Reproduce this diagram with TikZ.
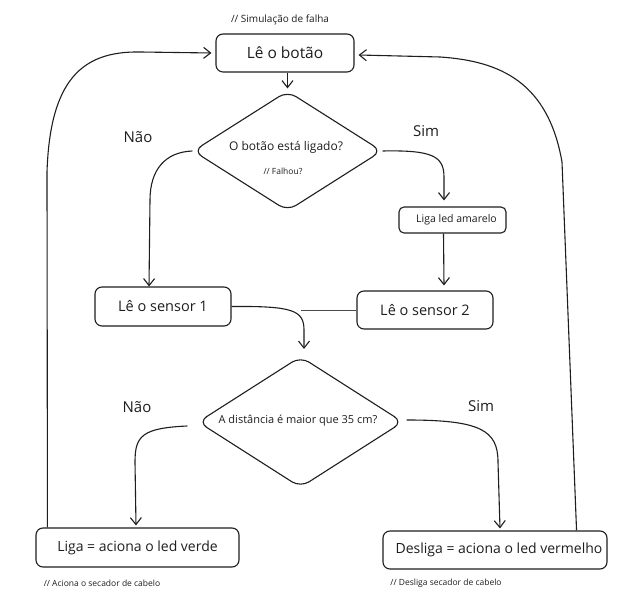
\documentclass[tikz,border=0pt]{standalone}
\usepackage{fontspec}
\setmainfont{Open Sans}
\usetikzlibrary{shapes.geometric,arrows.meta,calc}
\definecolor{ink}{HTML}{1E1E1E}
\begin{document}
\begin{tikzpicture}[x=1pt,y=1pt,
  box/.style={draw=ink, line width=1.1pt, rounded corners=7pt, inner sep=0pt, text=ink},
  dia/.style={draw=ink, line width=1.1pt, diamond, rounded corners=10pt, inner sep=0pt},
  lbl/.style={text=ink, inner sep=0pt},
  note/.style={text=ink, inner sep=0pt, font=\fontsize{8.5}{10}\selectfont},
  arr/.style={draw=ink, line width=1.1pt, -{Straight Barb[length=7pt,width=11pt]}},
  ln/.style={draw=ink!80, line width=0.8pt}]
\useasboundingbox (0,0) rectangle (632,602);
\fill[white] (0,0) rectangle (632,602);

% boxes
\node[box, minimum width=138pt, minimum height=38pt, font=\fontsize{15.5}{18}\selectfont] (botao) at (285,549) {Lê o botão};
\node[note, font=\fontsize{10}{12}\selectfont] (sim0) at (280,582) {// Simulação de falha};

\node[dia, minimum width=189pt, minimum height=120pt] (d1) at (287.5,451) {};
\node[lbl, font=\fontsize{12}{14}\selectfont] (d1t) at (286,455) {O botão está ligado?};
\node[note, font=\fontsize{8.5}{10}\selectfont] (d1n) at (283,431) {// Falhou?};

\node[box, rounded corners=5pt, minimum width=107pt, minimum height=26pt, font=\fontsize{10.5}{12}\selectfont] (amar) at (452.5,382) {\hspace*{8pt}Liga led amarelo};

\node[box, minimum width=136pt, minimum height=39pt, font=\fontsize{14.5}{17}\selectfont] (s1) at (163,295.5) {Lê o sensor 1};
\node[box, minimum width=136pt, minimum height=38pt, font=\fontsize{14.5}{17}\selectfont] (s2) at (425,292) {Lê o sensor 2};

\node[dia, minimum width=205pt, minimum height=131pt] (d2) at (300.5,180) {};
\node[lbl, font=\fontsize{11}{13}\selectfont] (d2t) at (298,181) {A distância é maior que 35 cm?};

\node[box, minimum width=203pt, minimum height=39pt, font=\fontsize{14}{17}\selectfont] (liga) at (137.5,54.5) {Liga = aciona o led verde};
\node[box, minimum width=224pt, minimum height=38pt, font=\fontsize{14}{17}\selectfont] (desl) at (495,52) {\hspace*{8pt}Desliga = aciona o led vermelho};

\node[note] (n1) at (102,19) {// Aciona o secador de cabelo};
\node[note] (n2) at (446,19) {// Desliga secador de cabelo};

% branch labels
\node[lbl, font=\fontsize{15}{18}\selectfont] (nao1) at (138,465) {Não};
\node[lbl, font=\fontsize{15}{18}\selectfont] (sim1) at (426,471) {Sim};
\node[lbl, font=\fontsize{15}{18}\selectfont] (nao2) at (137,195) {Não};
\node[lbl, font=\fontsize{15}{18}\selectfont] (sim2) at (481,196) {Sim};

% connector end points
\coordinate (s1in) at ([xshift=-14pt]s1.north);
\coordinate (amin) at ([xshift=-8.5pt,yshift=6pt]amar.north);
\coordinate (amout) at ([xshift=-9pt]amar.south);
\coordinate (s2in) at ([xshift=19pt,yshift=5pt]s2.north);
\coordinate (d2in) at ([xshift=3.5pt,yshift=7pt]d2.north);
\coordinate (d2w) at ([xshift=-10pt,yshift=-4pt]d2.west);
\coordinate (d2e) at ([xshift=3pt,yshift=2pt]d2.east);
\coordinate (ligain) at ([xshift=-1.5pt,yshift=2pt]liga.north);
\coordinate (deslin) at ([xshift=5pt,yshift=2pt]desl.north);
\coordinate (ligaout) at ([xshift=12pt]liga.north west);
\coordinate (deslout) at ([xshift=-31pt]desl.north east);
\coordinate (botl) at ([xshift=-4pt]botao.west);
\coordinate (botr) at ([xshift=4pt,yshift=-2pt]botao.east);

% connectors
\draw[arr] (botao.south -| d1.north) -- ([yshift=2pt]d1.north);
\draw[arr] (d1.west) .. controls (165,450) and (150,432) .. (150,402) -- (s1in);
\draw[arr] (d1.east) .. controls (432,452) and (444,446) .. (444,425) -- (amin);
\draw[arr] (amout) -- (s2in);
\draw[arr] (s1.east) .. controls (292,296) and (304,292) .. (304,272) -- (d2in);
\draw[ln] (s2.west) -- (s2.west -| d2.north);
\draw[arr] (d2w) .. controls (142,174) and (135,166) .. (135,140) -- (ligain);
\draw[arr] (d2e) .. controls (480,182) and (498,172) .. (498,140) -- (deslin);
\draw[arr] (ligaout) -- (47,430) .. controls (50,522) and (82,551) .. (140,550) -- (botl);
\draw[arr] (deslout) -- (562,440) .. controls (548,520) and (500,541) .. (440,545) -- (botr);
\end{tikzpicture}
\end{document}
